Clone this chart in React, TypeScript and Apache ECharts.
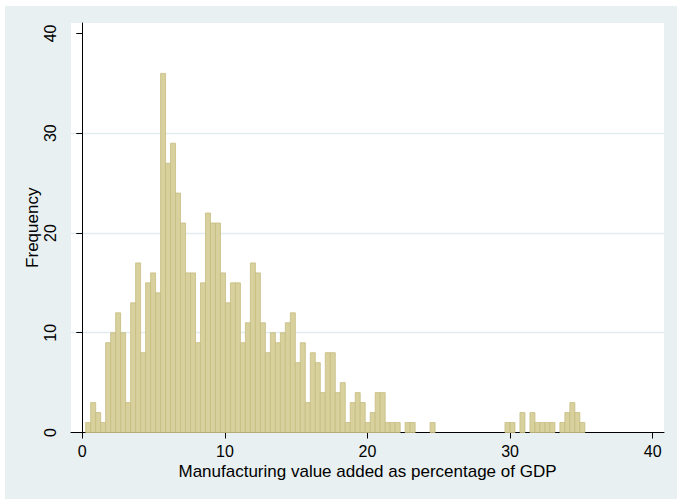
import React, { useEffect, useRef } from "react";
import * as echarts from "echarts";

// Histogram bins: first lower edge and common width (percent of GDP)
const binStart = 0.24;
const binWidth = 0.35;

// Frequency in each of the 100 bins, left to right
const binCounts = [
  1, 3, 2, 1, 9, 10, 12, 10, 3, 13,
  17, 8, 15, 16, 14, 36, 27, 29, 24, 21,
  16, 16, 9, 15, 22, 21, 21, 16, 13, 15,
  15, 9, 11, 17, 16, 11, 8, 10, 9, 10,
  11, 12, 7, 9, 3, 8, 7, 4, 8, 8,
  4, 5, 1, 3, 4, 3, 1, 2, 4, 4,
  1, 1, 1, 0, 1, 1, 0, 0, 0, 1,
  0, 0, 0, 0, 0, 0, 0, 0, 0, 0,
  0, 0, 0, 0, 1, 1, 0, 2, 0, 2,
  1, 1, 1, 1, 0, 1, 2, 3, 2, 1,
];

const xTicks = [0, 10, 20, 30, 40];
const yTicks = [0, 10, 20, 30, 40];

const FONT = "'Liberation Sans', Arial, Helvetica, sans-serif";

export default function App() {
  const ref = useRef<HTMLDivElement>(null);

  useEffect(() => {
    if (!ref.current) return;
    const chart = echarts.init(ref.current, null, { renderer: "svg" });

    const bins = binCounts
      .map((c, i) => [binStart + i * binWidth, binStart + (i + 1) * binWidth, c])
      .filter((d) => d[2] > 0);

    chart.setOption({
      animation: false,
      backgroundColor: "transparent",
      grid: {
        left: 71,
        right: 13,
        top: 23,
        bottom: 66.5,
        show: true,
        backgroundColor: "#ffffff",
        borderWidth: 0,
      },
      xAxis: {
        type: "value",
        min: -0.79,
        max: 40.79,
        name: "Manufacturing value added as percentage of GDP",
        nameLocation: "middle",
        nameGap: 30,
        nameMoveOverlap: false,
        nameTextStyle: { fontFamily: FONT, fontSize: 17, color: "#000" },
        axisLine: { show: true, onZero: false, lineStyle: { color: "#000", width: 1 } },
        axisTick: { show: true, length: 6, customValues: xTicks, lineStyle: { color: "#000" } },
        axisLabel: {
          customValues: xTicks,
          margin: 11,
          fontFamily: FONT,
          fontSize: 16,
          color: "#000",
        },
        splitLine: { show: false },
      },
      yAxis: {
        type: "value",
        min: 0,
        max: 41.05,
        interval: 10,
        name: "Frequency",
        nameLocation: "middle",
        nameGap: 30,
        nameRotate: 90,
        nameMoveOverlap: false,
        nameTextStyle: { fontFamily: FONT, fontSize: 17, color: "#000" },
        axisLine: { show: true, lineStyle: { color: "#000", width: 1 } },
        axisTick: { show: true, length: 6, customValues: yTicks, lineStyle: { color: "#000" } },
        axisLabel: {
          customValues: yTicks,
          rotate: 90,
          margin: 13,
          fontFamily: FONT,
          fontSize: 16,
          color: "#000",
        },
        splitLine: {
          show: true,
          showMinLine: false,
          showMaxLine: false,
          lineStyle: { color: "#e2ebee", width: 1.3 },
        },
      },
      series: [
        {
          type: "custom",
          data: bins,
          encode: { x: [0, 1], y: 2 },
          renderItem: (params: any, api: any) => {
            const lo = api.value(0);
            const hi = api.value(1);
            const count = api.value(2);
            const top = api.coord([lo, count]);
            const base = api.coord([hi, 0]);
            return {
              type: "rect",
              shape: {
                x: top[0],
                y: top[1],
                width: base[0] - top[0],
                height: base[1] - top[1],
              },
              style: { fill: "#d8d19e", stroke: "#c6bd80", lineWidth: 0.8 },
            };
          },
        },
      ],
    });

    return () => chart.dispose();
  }, []);

  return (
    <div style={{ position: "absolute", left: 0, top: 0, width: 677, height: 499, background: "#ffffff" }}>
      <div style={{ position: "absolute", left: 5, top: 6, right: 0, bottom: 0, background: "#e8f0f1" }} />
      <div ref={ref} style={{ position: "absolute", left: 0, top: 0, width: 677, height: 499 }} />
    </div>
  );
}
